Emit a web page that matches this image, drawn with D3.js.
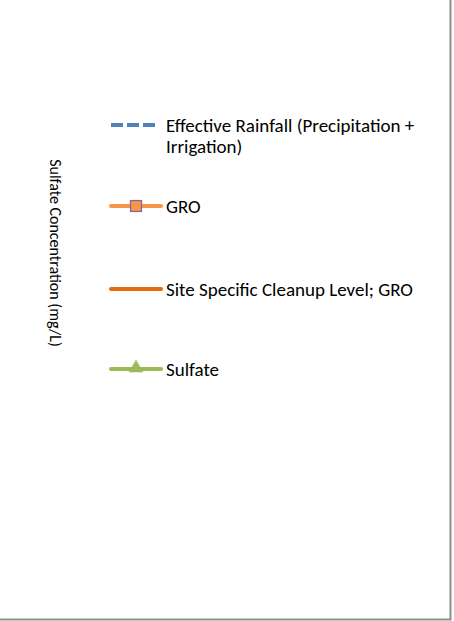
<!DOCTYPE html>
<html><head><meta charset="utf-8">
<script src="https://cdn.jsdelivr.net/npm/d3@7"></script>
<style>html,body{margin:0;padding:0;background:#fff;}</style>
</head><body>
<script>
const seriesNames = ["Effective Rainfall (Precipitation +|Irrigation)", "GRO", "Site Specific Cleanup Level; GRO", "Sulfate"];
const seriesColors = ["#4F81BD", "#F79646", "#E46C0A", "#9BBB59"];
const seriesDash = ["12,4", null, null, null];
const seriesMarkers = [null, "square", null, "triangle"];
const markerStroke = [null, "#8064A2", null, "#9BBB59"];
const yAxisTitle = "Sulfate Concentration (mg/L)";

const W = 454, H = 621;
const svg = d3.select("body").append("svg").attr("width", W).attr("height", H);
const font = "Carlito, Calibri, Lato, 'Open Sans', sans-serif";

// frame (right & bottom visible)
svg.append("rect").attr("x", -2).attr("y", -2).attr("width", 452.5).attr("height", 621.5)
  .attr("fill", "#fff").attr("stroke", "#8c8c8c").attr("stroke-width", 2);

// y-axis title
svg.append("text").attr("transform", "translate(50,253) rotate(90)")
  .attr("text-anchor", "middle").attr("font-family", font).attr("font-size", 16)
  .attr("fill", "#000").text(yAxisTitle);

// legend positions
const entryY = d3.scaleOrdinal().domain(d3.range(seriesNames.length)).range([125, 206, 289, 369]);
const g = svg.append("g");
seriesNames.forEach((name, i) => {
  const y = entryY(i);
  const item = g.append("g");
  item.append("line").attr("x1", 111).attr("x2", seriesDash[i] ? 155 : 161).attr("y1", y).attr("y2", y)
    .attr("stroke", seriesColors[i]).attr("stroke-width", 4)
    .attr("stroke-dasharray", seriesDash[i]).attr("stroke-linecap", seriesDash[i] ? "butt" : "round");
  if (seriesMarkers[i] === "square") {
    item.append("rect").attr("x", 130.5).attr("y", y - 5.5).attr("width", 11).attr("height", 11)
      .attr("fill", seriesColors[i]).attr("stroke", markerStroke[i]).attr("stroke-width", 1.2);
  } else if (seriesMarkers[i] === "triangle") {
    item.append("path").attr("d", d3.symbol(d3.symbolTriangle, 80)())
      .attr("transform", `translate(136,${y - 1})`)
      .attr("fill", seriesColors[i]).attr("stroke", "#8fae4f").attr("stroke-width", 0.5);
  }
  const lines = name.split("|");
  const t = item.append("text").attr("font-family", font).attr("font-size", 19).attr("fill", "#000");
  lines.forEach((ln, j) => {
    t.append("tspan").attr("x", 166).attr("y", y + 6.5 + j * 21).text(ln);
  });
});
</script>
</body></html>
